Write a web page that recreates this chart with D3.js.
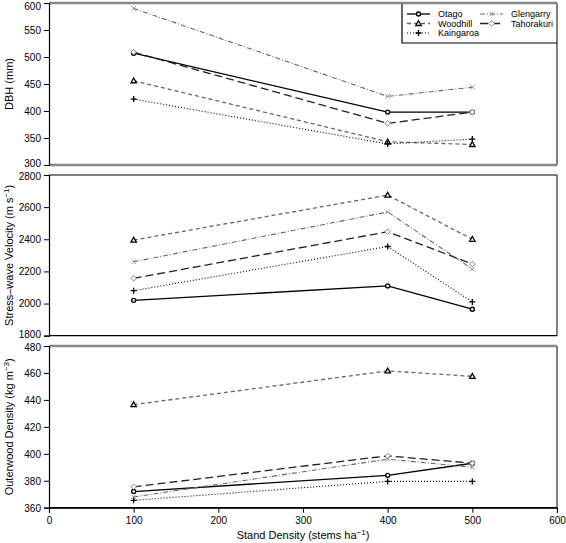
<!DOCTYPE html>
<html>
<head>
<meta charset="utf-8">
<script src="https://cdn.jsdelivr.net/npm/d3@7"></script>
<style>
  html, body { margin: 0; padding: 0; background: #fff; }
  svg { display: block; font-family: "Liberation Sans", Arial, Helvetica, sans-serif; }
</style>
</head>
<body>
<svg id="chart" width="566" height="543"></svg>
<script>
// ---- Data ----
const standDensity = [100, 400, 500];
const xTicks = [0, 100, 200, 300, 400, 500, 600];
const sites = ["Otago", "Woodhill", "Kaingaroa", "Glengarry", "Tahorakuri"];

const dbhOtago      = [507, 398, 398];
const dbhWoodhill   = [456, 343, 338];
const dbhKaingaroa  = [422, 339, 348];
const dbhGlengarry  = [590, 427, 444];
const dbhTahorakuri = [509, 377, 398];

const velOtago      = [2020, 2110, 1965];
const velWoodhill   = [2395, 2675, 2400];
const velKaingaroa  = [2080, 2355, 2010];
const velGlengarry  = [2260, 2570, 2215];
const velTahorakuri = [2157, 2447, 2246];

const denOtago      = [372, 384, 393];
const denWoodhill   = [436.5, 461.5, 457.5];
const denKaingaroa  = [365.5, 379.5, 379.5];
const denGlengarry  = [368, 396, 390];
const denTahorakuri = [375.5, 398.5, 393];

const dbhTicks = [300, 350, 400, 450, 500, 550, 600];
const velTicks = [1800, 2000, 2200, 2400, 2600, 2800];
const denTicks = [360, 380, 400, 420, 440, 460, 480];

// ---- Styles ----
const styles = {
  Otago:      {stroke: "#000", dash: null,      width: 1.3, marker: "circle",   mcolor: "#000"},
  Woodhill:   {stroke: "#666", dash: "4,3",     width: 1.3, marker: "triangle", mcolor: "#000"},
  Kaingaroa:  {stroke: "#000", dash: "1,2",     width: 1.1, marker: "plus",     mcolor: "#000"},
  Glengarry:  {stroke: "#666", dash: "5,2,1,2", width: 1.1, marker: "cross",    mcolor: "#888"},
  Tahorakuri: {stroke: "#222", dash: "8,4",     width: 1.3, marker: "diamond",  mcolor: "#777"}
};

const svg = d3.select("#chart");
const x = d3.scaleLinear().domain([0, 600]).range([49, 557]);

const panels = [
  {ticks: dbhTicks, domain: [300, 600], range: [165, 3], label: "DBH (mm)",
   data: {Otago: dbhOtago, Woodhill: dbhWoodhill, Kaingaroa: dbhKaingaroa, Glengarry: dbhGlengarry, Tahorakuri: dbhTahorakuri},
   grayTop: true, grayBottom: true},
  {ticks: velTicks, domain: [1800, 2800], range: [335.7, 175], label: ["Stress\u2013wave Velocity (m s", "\u22121", ")"],
   data: {Otago: velOtago, Woodhill: velWoodhill, Kaingaroa: velKaingaroa, Glengarry: velGlengarry, Tahorakuri: velTahorakuri},
   grayTop: false, grayBottom: false},
  {ticks: denTicks, domain: [360, 480], range: [507.7, 346], label: ["Outerwood Density (kg m", "\u22123", ")"],
   data: {Otago: denOtago, Woodhill: denWoodhill, Kaingaroa: denKaingaroa, Glengarry: denGlengarry, Tahorakuri: denTahorakuri},
   grayTop: true, grayBottom: false, xAxis: true}
];

function drawMarker(g, type, cx, cy, color) {
  const s = 2.3;
  if (type === "circle") {
    g.append("circle").attr("cx", cx).attr("cy", cy).attr("r", 2)
      .attr("fill", "#fff").attr("stroke", color).attr("stroke-width", 1.4);
  } else if (type === "triangle") {
    g.append("path").attr("d", `M${cx},${cy - 2.8}L${cx + 2.7},${cy + 2}L${cx - 2.7},${cy + 2}Z`)
      .attr("fill", "#fff").attr("stroke", color).attr("stroke-width", 1.3);
  } else if (type === "plus") {
    g.append("path").attr("d", `M${cx - 3},${cy}L${cx + 3},${cy}M${cx},${cy - 3}L${cx},${cy + 3}`)
      .attr("stroke", color).attr("stroke-width", 1.3);
  } else if (type === "cross") {
    g.append("path").attr("d", `M${cx - s},${cy - s}L${cx + s},${cy + s}M${cx - s},${cy + s}L${cx + s},${cy - s}`)
      .attr("stroke", color).attr("stroke-width", 0.9);
  } else if (type === "diamond") {
    g.append("path").attr("d", `M${cx},${cy - 2.8}L${cx + 2.8},${cy}L${cx},${cy + 2.8}L${cx - 2.8},${cy}Z`)
      .attr("fill", "#fff").attr("stroke", color).attr("stroke-width", 0.9);
  }
}

panels.forEach((p, pi) => {
  const y = d3.scaleLinear().domain(p.domain).range(p.range);
  const top = y(p.domain[1]), bot = y(p.domain[0]);
  const g = svg.append("g");

  // frame
  g.append("line").attr("x1", x(600)).attr("x2", x(600)).attr("y1", top).attr("y2", bot).attr("stroke", "#000").attr("stroke-width", 1);
  g.append("line").attr("x1", x(0)).attr("x2", x(600)).attr("y1", top).attr("y2", top)
    .attr("stroke", p.grayTop ? "#888" : "#000").attr("stroke-width", p.grayTop ? 2.5 : 1.2);
  g.append("line").attr("x1", x(0)).attr("x2", x(600)).attr("y1", bot).attr("y2", bot)
    .attr("stroke", p.grayBottom ? "#888" : "#000").attr("stroke-width", p.grayBottom ? 2.5 : 1.2);

  // y axis
  const ya = g.append("g").attr("transform", `translate(${x(0)},0)`)
    .call(d3.axisLeft(y).tickValues(p.ticks).tickSize(5).tickPadding(3).tickFormat(d3.format("d")));
  ya.select(".domain").attr("stroke", "#000").attr("stroke-width", 1.2);
  ya.selectAll("text").attr("font-size", 10).attr("fill", "#000").attr("font-family", "Liberation Sans, Arial, sans-serif")
    .attr("dy", "0.34em");
  // nudge edge labels of adjacent panels apart so they do not collide
  const lo = p.domain[0], hi = p.domain[1];
  ya.selectAll(".tick").filter(d => d === hi).select("text")
    .attr("dy", pi === 0 ? "0.62em" : "0.48em");
  ya.selectAll(".tick").filter(d => d === lo).select("text")
    .attr("dy", pi === 2 ? "0.34em" : "0.18em");

  // y label
  const cy = (top + bot) / 2;
  const lab = g.append("text").attr("transform", `translate(13,${cy}) rotate(-90)`)
    .attr("text-anchor", "middle").attr("font-size", 11).attr("fill", "#000");
  if (typeof p.label === "string") {
    lab.text(p.label);
  } else {
    lab.append("tspan").text(p.label[0]);
    lab.append("tspan").attr("dy", -4).attr("font-size", 8).text(p.label[1]);
    lab.append("tspan").attr("dy", 4).text(p.label[2]);
  }

  // series
  const line = d3.line().x((d, i) => x(standDensity[i])).y(d => y(d));
  sites.forEach(s => {
    const st = styles[s];
    g.append("path").datum(p.data[s]).attr("d", line)
      .attr("fill", "none").attr("stroke", st.stroke).attr("stroke-width", st.width)
      .attr("stroke-dasharray", st.dash);
  });
  sites.forEach(s => {
    const st = styles[s];
    p.data[s].forEach((v, i) => drawMarker(g, st.marker, x(standDensity[i]), y(v), st.mcolor));
  });

  if (p.xAxis) {
    const xa = g.append("g").attr("transform", `translate(0,${bot})`)
      .call(d3.axisBottom(x).tickValues(xTicks).tickSize(5).tickPadding(4).tickFormat(d3.format("d")));
    xa.select(".domain").attr("stroke", "#000").attr("stroke-width", 1.2);
    xa.selectAll("text").attr("font-size", 10).attr("fill", "#000");
    const xl = svg.append("text").attr("x", 303).attr("y", 539).attr("text-anchor", "middle")
      .attr("font-size", 11).attr("fill", "#000");
    xl.append("tspan").text("Stand Density (stems ha");
    xl.append("tspan").attr("dy", -4).attr("font-size", 8).text("\u22121");
    xl.append("tspan").attr("dy", 4).text(")");
  }
});

// ---- Legend ----
const lg = svg.append("g");
lg.append("path").attr("d", `M402,4V43H557`).attr("fill", "none").attr("stroke", "#000").attr("stroke-width", 1.2);
const legendPos = [
  {s: "Otago", x: 407, y: 14},
  {s: "Woodhill", x: 407, y: 23.5},
  {s: "Kaingaroa", x: 407, y: 33},
  {s: "Glengarry", x: 480, y: 14},
  {s: "Tahorakuri", x: 480, y: 23.5}
];
legendPos.forEach(e => {
  const st = styles[e.s];
  lg.append("line").attr("x1", e.x).attr("x2", e.x + 23).attr("y1", e.y).attr("y2", e.y)
    .attr("stroke", st.stroke).attr("stroke-width", st.width).attr("stroke-dasharray", st.dash);
  drawMarker(lg, st.marker, e.x + 11.5, e.y, st.mcolor);
  lg.append("text").attr("x", e.x + 31).attr("y", e.y + 3.2).attr("font-size", 9).attr("fill", "#000").text(e.s);
});
</script>
</body>
</html>
